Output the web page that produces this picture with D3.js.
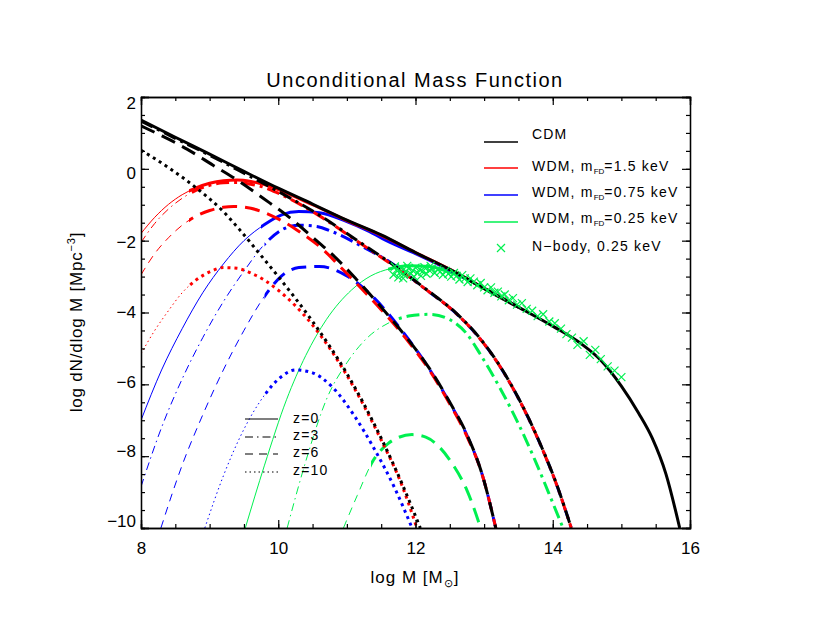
<!DOCTYPE html>
<html>
<head>
<meta charset="utf-8">
<script src="https://cdn.jsdelivr.net/npm/d3@7"></script>
<style>
  body { margin:0; background:#fff; }
  svg text { font-family: "Liberation Sans", Arial, sans-serif; fill:#000; }
</style>
</head>
<body>
<div id="chart"></div>
<script>
// log dN/dlog M curves, [log M, value]
var cdm_z0 = [[8,1.36],[8.5,0.88],[9,0.41],[9.5,-0.07],[10,-0.54],[10.5,-0.98],[11,-1.43],[11.5,-1.84],[12,-2.33],[12.5,-2.8],[13,-3.33],[13.5,-3.85],[14,-4.38],[14.4,-4.85],[14.7,-5.33],[15,-6.05],[15.25,-6.8],[15.45,-7.5],[15.65,-8.5],[15.85,-10]];
var cdm_z3 = [[8,1.33],[8.5,0.85],[9,0.38],[9.5,-0.12],[10,-0.63],[10.6,-1.29],[11.14,-1.98],[11.68,-2.68],[12.16,-3.36],[12.6,-4.03],[12.94,-4.72],[13.2,-5.4],[13.42,-6.1],[13.65,-6.95],[13.85,-7.8],[14.05,-8.75],[14.27,-10]];
var cdm_z6 = [[8,1.2],[8.28,0.94],[8.67,0.55],[9.05,0.1],[9.44,-0.36],[9.78,-0.82],[10.12,-1.29],[10.5,-1.9],[10.85,-2.5],[11.14,-3.08],[11.5,-3.85],[11.85,-4.65],[12.2,-5.55],[12.5,-6.5],[12.75,-7.4],[12.97,-8.5],[13.17,-10]];
var cdm_z10 = [[8,0.52],[8.42,0.01],[8.81,-0.54],[9.2,-1.19],[9.44,-1.7],[9.7,-2.3],[10,-3.0],[10.5,-4.25],[11,-5.7],[11.5,-7.5],[11.8,-8.75],[12.07,-10]];

var wdm15_z0 = [[8,-1.8],[8.2,-1.35],[8.4,-0.99],[8.6,-0.72],[8.8,-0.53],[9,-0.4],[9.2,-0.33],[9.4,-0.31],[9.6,-0.35],[9.8,-0.44],[10,-0.58],[10.5,-1.0],[11,-1.44],[11.5,-1.85],[12,-2.33],[12.5,-2.8],[13,-3.33],[13.5,-3.85]];
var wdm15_z3 = [[8,-2.05],[8.2,-1.52],[8.4,-1.12],[8.6,-0.82],[8.8,-0.6],[9,-0.46],[9.2,-0.39],[9.4,-0.38],[9.6,-0.43],[9.8,-0.52],[10,-0.68],[10.3,-0.97],[10.6,-1.31],[11.14,-2.0],[11.68,-2.7],[12.16,-3.37],[12.6,-4.04],[12.94,-4.73],[13.2,-5.41],[13.42,-6.11],[13.65,-6.96],[13.85,-7.81],[14.05,-8.76],[14.27,-10]];
var wdm15_z6 = [[8,-2.95],[8.2,-2.36],[8.4,-1.92],[8.6,-1.57],[8.8,-1.32],[9,-1.16],[9.2,-1.07],[9.35,-1.05],[9.6,-1.1],[9.9,-1.3],[10.27,-1.7],[10.66,-2.26],[10.9,-2.72],[11.14,-3.19],[11.5,-3.92],[11.85,-4.7],[12.2,-5.6],[12.5,-6.55],[12.75,-7.45],[12.97,-8.5],[13.17,-10]];
var wdm15_z10 = [[8,-5.15],[8.2,-4.5],[8.4,-3.95],[8.6,-3.45],[8.8,-3.1],[9,-2.87],[9.2,-2.75],[9.4,-2.77],[9.6,-2.9],[9.8,-3.1],[10,-3.38],[10.5,-4.35],[11,-5.75],[11.5,-7.55],[11.8,-8.8],[12.02,-10]];

var wdm075_z0 = [[8,-7.0],[8.3,-5.6],[8.6,-4.45],[8.9,-3.45],[9.2,-2.65],[9.5,-2.0],[9.8,-1.55],[10.05,-1.28],[10.3,-1.19],[10.6,-1.22],[11,-1.47],[11.3,-1.72],[11.63,-2.05],[12,-2.36],[12.5,-2.82],[13,-3.33],[13.5,-3.85]];
var wdm075_z3 = [[8,-8.85],[8.3,-7.2],[8.6,-5.85],[8.9,-4.7],[9.2,-3.7],[9.5,-2.85],[9.8,-2.1],[10.05,-1.7],[10.3,-1.57],[10.55,-1.6],[10.8,-1.76],[11.23,-2.17],[11.63,-2.6],[12.11,-3.3],[12.6,-4.04],[12.94,-4.73],[13.2,-5.41],[13.42,-6.11],[13.65,-6.96],[13.85,-7.81],[14.05,-8.76],[14.27,-10]];
var wdm075_z6 = [[8.29,-10],[8.6,-8.25],[8.9,-6.85],[9.2,-5.6],[9.5,-4.5],[9.8,-3.55],[10.05,-2.98],[10.3,-2.75],[10.6,-2.72],[11,-2.98],[11.4,-3.6],[11.8,-4.5],[12.2,-5.57],[12.5,-6.52],[12.75,-7.42],[12.97,-8.5],[13.17,-10]];
var wdm075_z10 = [[8.93,-10],[9.2,-8.55],[9.5,-7.25],[9.8,-6.3],[10.05,-5.78],[10.25,-5.6],[10.5,-5.68],[10.8,-6.1],[11.1,-6.85],[11.4,-7.8],[11.7,-8.9],[11.95,-10]];

var wdm025_z0 = [[9.52,-10],[9.8,-8.25],[10.12,-6.43],[10.4,-5.2],[10.7,-4.2],[11.07,-3.37],[11.35,-2.98],[11.63,-2.78],[11.9,-2.7],[12.2,-2.72],[12.5,-2.88],[12.8,-3.12],[13.1,-3.45],[13.5,-3.85]];
var wdm025_z3 = [[10.13,-10],[10.4,-8.15],[10.7,-6.43],[11,-5.4],[11.3,-4.7],[11.6,-4.3],[11.9,-4.1],[12.2,-4.05],[12.5,-4.2],[12.75,-4.6],[12.94,-5.15],[13.23,-6.1],[13.5,-7.1],[13.75,-8.15],[14.0,-9.3],[14.15,-10]];
var wdm025_z6 = [[10.95,-10],[11.15,-9.1],[11.39,-8.1],[11.6,-7.65],[11.75,-7.48],[11.95,-7.4],[12.15,-7.47],[12.35,-7.75],[12.55,-8.25],[12.75,-8.95],[12.95,-10]];

// N-body, 0.25 keV
var nbodyM = [11.68,11.7,11.72,11.75,11.78,11.8,11.82,11.83,11.86,11.88,11.9,11.93,11.96,11.98,12.0,12.03,12.06,12.08,12.1,12.13,12.16,12.2,12.22,12.24,12.28,12.32,12.36,12.4,12.44,12.48,12.52,12.56,12.6,12.64,12.68,12.72,12.76,12.8,12.85,12.9,12.95,13.0,13.05,13.1,13.15,13.2,13.25,13.3,13.36,13.42,13.48,13.55,13.62,13.7,13.78,13.86,13.95,14.03,14.12,14.2,14.28,14.36,14.45,14.54,14.62,14.7,14.8,14.9,15.0];
var nbodyN = [-2.95,-2.72,-2.82,-3.02,-2.88,-2.76,-3.05,-2.95,-2.85,-2.7,-2.78,-2.92,-2.83,-3.0,-2.75,-2.9,-2.8,-2.98,-2.86,-2.74,-2.92,-2.82,-2.7,-2.78,-2.9,-2.8,-2.86,-2.95,-2.84,-2.92,-3.0,-2.9,-2.98,-3.08,-2.96,-3.05,-3.15,-3.05,-3.14,-3.24,-3.18,-3.3,-3.38,-3.3,-3.45,-3.42,-3.55,-3.5,-3.66,-3.6,-3.78,-3.74,-3.9,-3.95,-4.1,-4.05,-4.25,-4.3,-4.45,-4.6,-4.7,-4.9,-4.8,-5.18,-5.04,-5.3,-5.5,-5.62,-5.8];

var xTicks = [8,10,12,14,16];
var yTicks = [-10,-8,-6,-4,-2,0,2];
var modelNames = ["CDM","WDM, m|FD|=1.5 keV","WDM, m|FD|=0.75 keV","WDM, m|FD|=0.25 keV"];
var zNames = ["z=0","z=3","z=6","z=10"];

var black = "#000", red = "#ff0000", blue = "#0000ff", green = "#00f050";

var W = 830, H = 624;
var x = d3.scaleLinear().domain([8,16]).range([141,690]);
var y = d3.scaleLinear().domain([-10,2]).range([528,97]);
var labelY = d3.scaleLinear().domain([-10,2]).range([521,103]);

// style per z: solid, dash-dot, dashed, dotted
var styles = [
  {thick:null, thin:null},
  {thick:"13,5,3,5", thin:"8,4,1.5,4"},
  {thick:"15,8", thin:"8,6"},
  {thick:"3,4", thin:"1.5,3"}
];

var series = [
  {data:wdm025_z0, color:green, z:0, from:11.6},
  {data:wdm025_z3, color:green, z:1, from:11.7},
  {data:wdm025_z6, color:green, z:2, from:11.35},
  {data:wdm075_z0, color:blue, z:0, from:9.75},
  {data:wdm075_z3, color:blue, z:1, from:9.8},
  {data:wdm075_z6, color:blue, z:2, from:9.8},
  {data:wdm075_z10, color:blue, z:3, from:9.8},
  {data:wdm15_z0, color:red, z:0, from:8.7},
  {data:wdm15_z3, color:red, z:1, from:8.7},
  {data:wdm15_z6, color:red, z:2, from:8.7},
  {data:wdm15_z10, color:red, z:3, from:8.7},
  {data:cdm_z0, color:black, z:0, from:8},
  {data:cdm_z3, color:black, z:1, from:8},
  {data:cdm_z6, color:black, z:2, from:8},
  {data:cdm_z10, color:black, z:3, from:8}
];

var svg = d3.select("#chart").append("svg")
    .attr("width",W).attr("height",H);
var defs = svg.append("defs");

defs.append("clipPath").attr("id","plotclip").append("rect")
    .attr("x",x(8)).attr("y",y(2)).attr("width",x(16)-x(8)).attr("height",y(-10)-y(2));

var line = d3.line()
    .x(function(d){return x(d[0]);})
    .y(function(d){return y(d[1]);})
    .curve(d3.curveMonotoneX);

var plot = svg.append("g").attr("clip-path","url(#plotclip)");

series.forEach(function(s,i){
  var xs = x(s.from);
  defs.append("clipPath").attr("id","thin_"+i).append("rect")
      .attr("x",0).attr("y",0).attr("width",xs).attr("height",H);
  defs.append("clipPath").attr("id","thick_"+i).append("rect")
      .attr("x",xs).attr("y",0).attr("width",W-xs).attr("height",H);
  var st = styles[s.z];
  if(s.from > 8){
    plot.append("path")
        .attr("d",line(s.data))
        .attr("clip-path","url(#thin_"+i+")")
        .attr("fill","none").attr("stroke",s.color)
        .attr("stroke-width",1)
        .attr("stroke-dasharray",st.thin);
  }
  plot.append("path")
      .attr("d",line(s.data))
      .attr("clip-path","url(#thick_"+i+")")
      .attr("fill","none").attr("stroke",s.color)
      .attr("stroke-width",3)
      .attr("stroke-dasharray",st.thick)
      .attr("stroke-dashoffset", s.color==black ? 0 : 6);
});

// N-body crosses
plot.selectAll(".nb").data(nbodyM).enter().append("path")
    .attr("class","nb")
    .attr("transform",function(d,i){return "translate("+x(d)+","+y(nbodyN[i])+")";})
    .attr("d","M-4,-4L4,4M-4,4L4,-4")
    .attr("stroke",green).attr("stroke-width",1.2).attr("fill","none");

// axes, ticks inward on all four sides
function minorVals(dom,step){ return d3.range(dom[0],dom[1]+1e-9,step); }
var fontTick = "17px";

var xb = svg.append("g").attr("transform","translate(0,"+y(-10)+")")
    .call(d3.axisBottom(x).tickValues(xTicks).tickSize(-8).tickPadding(14).tickFormat(d3.format("d")));
svg.append("g").attr("transform","translate(0,"+y(-10)+")")
    .call(d3.axisBottom(x).tickValues(minorVals([8,16],0.5)).tickSize(-4).tickFormat(""));
svg.append("g").attr("transform","translate(0,"+y(2)+")")
    .call(d3.axisTop(x).tickValues(xTicks).tickSize(-8).tickFormat(""));
svg.append("g").attr("transform","translate(0,"+y(2)+")")
    .call(d3.axisTop(x).tickValues(minorVals([8,16],0.5)).tickSize(-4).tickFormat(""));

var yl = svg.append("g").attr("transform","translate("+x(8)+",0)")
    .call(d3.axisLeft(y).tickValues(yTicks).tickSize(-8).tickPadding(5).tickFormat(d3.format("d")));
svg.append("g").attr("transform","translate("+x(8)+",0)")
    .call(d3.axisLeft(y).tickValues(minorVals([-10,2],0.5)).tickSize(-4).tickFormat(""));
svg.append("g").attr("transform","translate("+x(16)+",0)")
    .call(d3.axisRight(y).tickValues(yTicks).tickSize(-8).tickFormat(""));
svg.append("g").attr("transform","translate("+x(16)+",0)")
    .call(d3.axisRight(y).tickValues(minorVals([-10,2],0.5)).tickSize(-4).tickFormat(""));

svg.selectAll(".domain").attr("stroke","#000").attr("stroke-width",1.3);
svg.selectAll(".tick line").attr("stroke","#000").attr("stroke-width",1.2);
svg.selectAll(".tick text").style("font-size",fontTick).style("font-family","Liberation Sans, Arial, sans-serif");
yl.selectAll(".tick text").attr("transform",function(d){return "translate(0,"+(labelY(d)-y(d))+")";});

// titles
svg.append("text").attr("x",415).attr("y",87).attr("text-anchor","middle")
    .style("font-size","20px").style("letter-spacing","1.5px")
    .text("Unconditional Mass Function");

var xt = svg.append("text").attr("x",415).attr("y",583).attr("text-anchor","middle")
    .style("font-size","17px").style("letter-spacing","1px");
xt.append("tspan").text("log M [M");
xt.append("tspan").attr("dy",4).style("font-size","11px").text("\u2299");
xt.append("tspan").attr("dy",-4).text("]");

var yt = svg.append("text").attr("transform","translate(82,322) rotate(-90)")
    .attr("text-anchor","middle").style("font-size","17px").style("letter-spacing","0.8px");
yt.append("tspan").text("log dN/dlog M [Mpc");
yt.append("tspan").attr("dy",-7).style("font-size","11px").text("\u22123");
yt.append("tspan").attr("dy",7).text("]");

// legend, models
var legColors = [black,red,blue,green];
var legTextY = [139,171,197,223];
var legLineY = [142,168,195,222];
var leg = svg.append("g");
modelNames.forEach(function(n,i){
  leg.append("line").attr("x1",484).attr("x2",518)
      .attr("y1",legLineY[i]).attr("y2",legLineY[i])
      .attr("stroke",legColors[i]).attr("stroke-width",1.5);
  var t = leg.append("text").attr("x",532).attr("y",legTextY[i])
      .style("font-size","14px").style("letter-spacing","1.2px");
  var parts = n.split("|");
  t.append("tspan").text(parts[0]);
  if(parts.length>1){
    t.append("tspan").attr("dy",3).style("font-size","8px").style("letter-spacing","0px").text(parts[1]);
    t.append("tspan").attr("dy",-3).text(parts[2]);
  }
});
leg.append("path").attr("transform","translate(501,248)")
    .attr("d","M-4,-4L4,4M-4,4L4,-4").attr("stroke",green).attr("stroke-width",1.2);
leg.append("text").attr("x",532).attr("y",251)
    .style("font-size","14px").style("letter-spacing","1.2px")
    .text("N\u2212body, 0.25 keV");

// legend, redshifts
var zLineY = [419,437,454,472];
var zTextY = [423,440,457,475];
zNames.forEach(function(n,i){
  leg.append("line").attr("x1",245).attr("x2",278)
      .attr("y1",zLineY[i]).attr("y2",zLineY[i])
      .attr("stroke","#000").attr("stroke-width",1.2)
      .attr("stroke-dasharray",styles[i].thin);
  leg.append("text").attr("x",293).attr("y",zTextY[i])
      .style("font-size","14px").style("letter-spacing","1.2px").text(n);
});
</script>
</body>
</html>
